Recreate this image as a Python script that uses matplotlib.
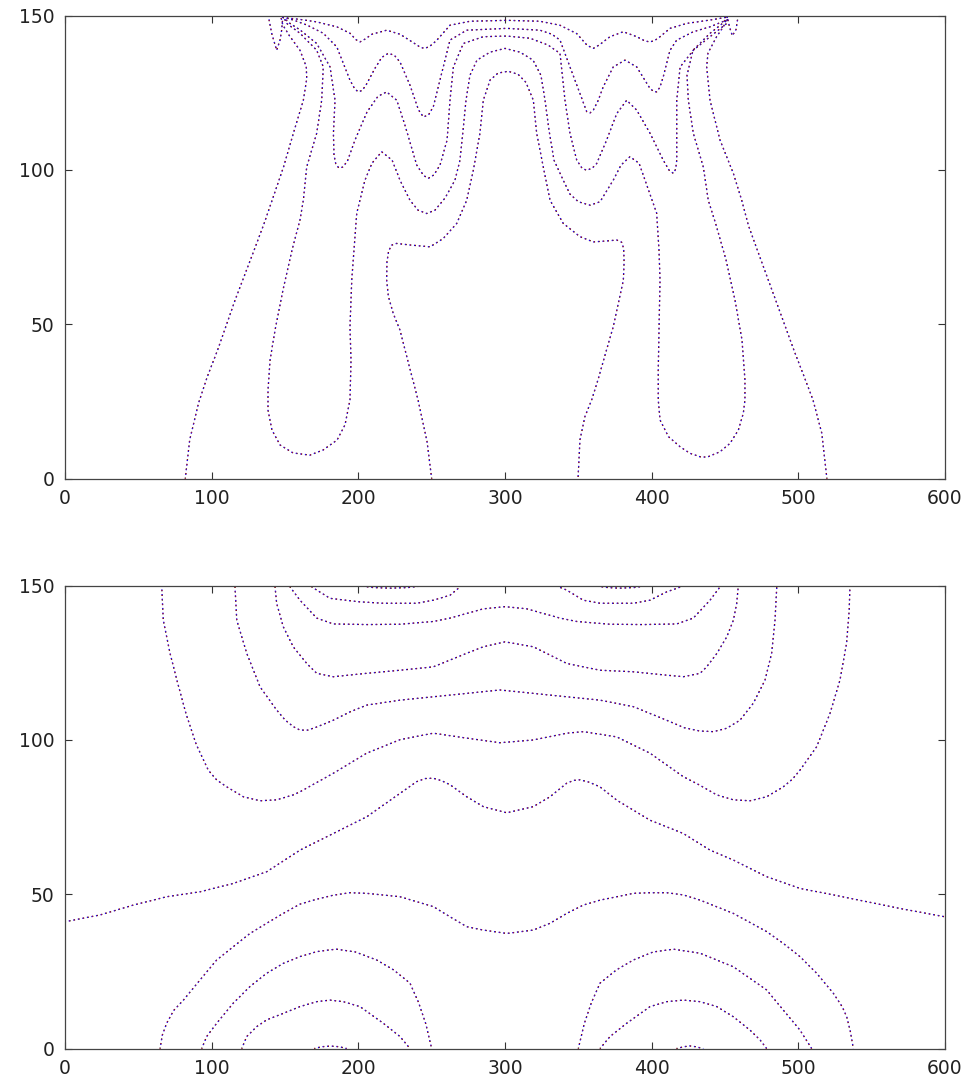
import matplotlib
matplotlib.use('Agg')
import matplotlib.pyplot as plt

# ---------------- top panel contours ----------------
top_outer_l_x = [82, 85, 91, 97, 104, 116, 129, 136, 142, 149, 155.7, 162.5, 164.8, 164.5, 160.2, 153, 148.5, 147]
top_outer_l_y = [0, 12.5, 24.4, 33, 41.6, 57.9, 74.1, 83, 91.3, 101, 111.9, 122.6, 129.5, 133.5, 138.8, 143.5, 147, 150]

top_outer_r_x = [519.5, 516, 510, 504, 497, 484.5, 472, 466, 461.4, 455.7, 446.6, 439.8, 437.5, 438.4, 444.3, 449, 452]
top_outer_r_y = [0, 14.7, 25.5, 33, 41.6, 57.9, 74.1, 82, 90.2, 98.9, 109.7, 122.6, 133.4, 137.9, 143.2, 146.5, 150]

top_long_x = [148.6, 151.2, 160.2, 171.6, 176.1, 175.0, 171.6, 164.8, 162.5, 160.2, 154.8, 148.6, 143.2, 139.8,
              138.4, 138.4, 141.1, 146.6, 155.5, 167.0, 176.1, 185.5, 190.9, 194.3, 195.0, 194.3, 195.5, 198.9,
              204.5, 209.3, 215.9, 223.0, 228.4, 235.2, 240.7, 246.6, 252.3, 259.1, 265.9, 269.3, 271.4, 273.4,
              276.1, 280.9, 289.8, 300, 310.2, 319.1, 324.5, 327.3, 330.0, 333.4, 339.7, 344.3, 350.0, 358.0,
              364.8, 373.8, 379.1, 385.2, 391.4, 395.5, 400.3, 403.4, 405.0, 405.7, 405.0, 404.5, 404.5, 405.7,
              411.4, 419.4, 426.1, 434.1, 438.6, 446.6, 453.4, 459.1, 462.5, 463.6, 463.6, 461.6, 456.8, 450.7,
              443.9, 438.6, 435.2, 428.4, 425.0, 424.1, 428.2, 439.8, 448.6, 451.4]
top_long_y = [150, 147.5, 144.3, 138.8, 133.4, 122.6, 111.9, 101.0, 90.2, 83.8, 74.1, 61.1, 48.1, 38.4,
              28.6, 22.2, 15.7, 10.9, 8.3, 7.6, 9.3, 12.5, 17.4, 25.5, 38.4, 49.1, 64.3, 86.0,
              96.7, 102.2, 105.9, 103.2, 96.7, 90.2, 87.0, 85.9, 87.0, 90.9, 96.7, 103.2, 112.9, 122.6,
              130.7, 135.6, 138.2, 139.4, 138.2, 135.6, 130.7, 122.6, 112.9, 103.2, 96.7, 92.2, 89.7, 88.6,
              89.7, 96.7, 101.6, 104.3, 102.2, 96.7, 90.2, 86.0, 74.1, 64.3, 48.1, 35.2, 25.5, 19.0,
              13.6, 10.3, 8.2, 6.9, 7.1, 8.7, 11.4, 15.7, 21.2, 25.5, 32.0, 44.9, 57.9, 70.9,
              82.2, 90.2, 101.0, 111.9, 122.6, 130.7, 138.8, 144.3, 147.6, 149.5]

top_center_x = [250, 246.8, 240.7, 234.5, 228.4, 223.8, 220.5, 219.3, 219.5, 220.6, 222.5, 226, 235.2, 248.9,
                257.9, 267.1, 273.9, 278.4, 282.9, 285.2, 289.8, 295.2, 302.2, 308.9, 314.3, 319.3, 321.6,
                326.1, 330.7, 339.7, 351.1, 360.2, 369.3, 376.2, 379.5, 380.9, 381.2, 380.7, 373.8, 368.2,
                363.4, 359.1, 354.5, 351.1, 349.8]
top_center_y = [0, 12.1, 25.5, 36.8, 48.1, 53.5, 59, 64.3, 70.2, 73.6, 75.6, 76.2, 75.7, 75.1,
                77.8, 82.7, 90.2, 99.9, 111.9, 122.6, 129.1, 131.4, 132.0, 131.0, 128.4, 122.6, 111.9,
                101.0, 90.2, 82.7, 78.4, 76.7, 77.0, 77.3, 76.6, 74.6, 70.2, 64.3, 49.2, 40.0,
                32.0, 25.5, 20.1, 12.5, 0]

top_w3_x = [148.6, 153.4, 160.2, 171.6, 180.7, 184.1, 183.0, 183.4, 184.6, 186.6, 189.2, 192.5, 197.7, 205.9,
            213.4, 219.3, 226.2, 231.8, 239.8, 244.5, 247.7, 251.5, 255.7, 260.5, 262.5, 264.8, 271.6, 285.2,
            301.1, 317.0, 329.3, 337.5, 340.9, 344.3, 348.9, 352.5, 355.7, 359.5, 362.5, 369.3, 376.2, 383.0,
            389.8, 398.9, 407.9, 411.8, 414.8, 416.4, 417.1, 417.1, 417.1, 419.4, 428.4, 439.8, 451.2, 452]
top_w3_y = [149.5, 147.5, 145.4, 141.0, 133.4, 122.6, 111.9, 104.8, 102.0, 100.7, 100.9, 102.8, 109.7, 118.8,
            123.9, 125.3, 122.6, 114.5, 101.6, 98.2, 97.3, 98.4, 101.6, 109.7, 122.6, 133.4, 141.0, 143.2,
            143.4, 142.7, 140.5, 137.8, 122.6, 111.9, 103.2, 100.6, 99.9, 100.6, 102.1, 109.7, 118.3, 122.6,
            119.4, 111.9, 103.2, 100.0, 98.9, 100.3, 103.2, 112.0, 122.6, 133.4, 138.8, 143.2, 147.5, 149.6]

top_w2_x = [148.6, 155.7, 164.8, 176.1, 185.3, 189.8, 194.3, 197.5, 200.0, 202.6, 205.2, 211.4, 216, 220.4,
            224.5, 228.4, 235.2, 241, 244.3, 247.8, 251.1, 257.9, 262.5, 273.9, 301.1, 323.9, 332.0, 337.5,
            344.3, 351.1, 355.7, 358, 360.2, 363.5, 367.0, 373.8, 381.8, 389.8, 398.9, 401.2, 403.4, 405.6,
            407.9, 412.5, 417.1, 428.4, 439.8, 451.2]
top_w2_y = [149.5, 148.6, 147.0, 144.3, 139.9, 134.5, 129.1, 126.3, 125.3, 125.8, 127.5, 133.0, 136.5, 137.8,
            137.2, 135.0, 127.5, 119.5, 117.2, 117.8, 120.5, 133.4, 142.1, 145.3, 145.9, 145.3, 144.0, 142.1,
            133.4, 124.8, 118.9, 118.5, 119.4, 122.5, 127.0, 133.4, 135.6, 133.4, 126.4, 125.5, 125.3, 126.8,
            130.2, 138.8, 142.1, 144.8, 146.4, 148.6]

top_w1_x = [148.6, 160.2, 171.6, 185.3, 194.3, 198.5, 201.1, 204.5, 209.3, 219.3, 228.4, 238.0, 242.5, 245.5,
            249, 253.0, 262.5, 276.1, 301.1, 323.9, 337.5, 348.9, 356, 360.2, 364.5, 371.6, 380.7, 389.8,
            395.5, 398.9, 402.2, 405.7, 412.5, 423.9, 439.8, 451.2]
top_w1_y = [149.4, 148.8, 148.0, 146.4, 144.3, 142.2, 141.5, 142.4, 144.0, 145.3, 144.0, 141.1, 139.7, 139.4,
            140.2, 141.8, 146.9, 148.2, 148.5, 148.2, 146.9, 144.2, 140.4, 139.4, 140.6, 143.2, 144.8, 143.2,
            141.8, 141.5, 142.0, 143.2, 145.9, 147.5, 148.6, 149.5]

top_hook_l_x = [138.6, 140.9, 144.3, 146.6, 147.7, 148.6]
top_hook_l_y = [150, 144.3, 138.8, 142.1, 145.3, 150]
top_hook_r_x = [451.5, 453, 455, 457.5, 459]
top_hook_r_y = [150, 146.5, 143.5, 145.5, 150]

# ---------------- bottom panel contours ----------------
bot_a1_x = [65.9, 67.0, 71.6, 76.5, 82.5, 89.5, 97.7, 103.5, 110.3, 121.6, 133.0, 144.3, 155.6, 160.2, 182.9,
            205.6, 228.4, 251.1, 273.9, 296.6, 319.3, 342.1, 353.4, 376.2, 398.9, 421.6, 433.0, 444.4, 455.7,
            467.0, 478.4, 489.7, 496, 501.1, 512.5, 521.6, 528.4, 532.9, 534.7, 535.2]
bot_a1_y = [150, 138.8, 128.1, 119.0, 108.5, 98.5, 90.2, 87.0, 84.8, 81.6, 80.3, 80.6, 82.2, 83.2, 89.2,
            95.7, 100.1, 102.2, 100.6, 99.1, 100.0, 102.2, 102.7, 101.0, 95.7, 88.1, 85.3, 82.2, 80.6,
            80.3, 81.6, 84.8, 87.3, 90.2, 97.8, 108.6, 119.4, 131.3, 142.1, 150]

bot_a2_x = [115.9, 117.1, 123.9, 133.0, 144.3, 150, 155.7, 160.2, 165.5, 171.6, 182.9, 194.3, 205.7, 228.4,
            251.1, 273.9, 296.6, 319.3, 342.1, 364.8, 387.5, 410.2, 422, 432.9, 442.1, 451.2, 460.2, 469.3,
            477.3, 481.8, 484.1, 485.3]
bot_a2_y = [149.6, 138.8, 128.1, 117.2, 109.7, 106.5, 104.3, 103.2, 103.2, 104.2, 106.4, 109.1, 111.3, 112.9,
            114.0, 115.1, 116.2, 115.1, 114.0, 112.9, 110.8, 106.4, 104.0, 102.9, 102.7, 103.8, 106.4, 111.9,
            119.4, 128.1, 138.8, 149.6]

bot_a3_x = [143.2, 144.3, 148.8, 155.6, 164.8, 171.6, 182.9, 205.7, 228.4, 251.1, 262.5, 273.9, 285.2, 300,
            319.3, 342.1, 364.8, 387.5, 410.2, 421.6, 433, 437.5, 444.4, 451.2, 455.7, 458, 459]
bot_a3_y = [149.6, 144.3, 136.7, 130.2, 124.8, 121.6, 120.5, 121.6, 122.6, 123.7, 125.9, 128.1, 130.2, 131.8,
            130.2, 124.8, 122.6, 122.1, 121.0, 120.5, 121.6, 123.7, 128.0, 133.4, 138.8, 144.3, 149.6]

bot_a4_x = [153.4, 160.2, 171.6, 182.9, 205.7, 228.4, 251.1, 262.5, 273.9, 285.2, 300, 314.8, 326.1, 337.5,
            348.9, 371.6, 394.3, 417.1, 428.4, 439.8, 446.6]
bot_a4_y = [149.6, 145.3, 139.5, 137.6, 137.4, 137.5, 138.4, 139.5, 141.0, 142.5, 143.2, 142.5, 141.0, 139.5,
            138.4, 137.5, 137.4, 137.6, 139.5, 145.3, 149.6]

bot_u1_l_x = [168.2, 180.7, 200, 217, 239.7, 251.1, 262.5, 269.3]
bot_u1_l_y = [149.6, 145.9, 144.8, 144.3, 144.3, 145.3, 146.9, 149.6]
bot_u1_r_x = [335.2, 342, 353.4, 364.8, 387.5, 398.9, 410.3, 421.6]
bot_u1_r_y = [149.9, 148.6, 145.3, 144.3, 144.3, 145.3, 148, 149.9]

bot_u0_l_x = [200, 210, 222, 234, 245]
bot_u0_l_y = [150, 149.4, 149.2, 149.4, 150]
bot_u0_r_x = [360, 370, 378, 388, 397]
bot_u0_r_y = [150, 149.4, 149.2, 149.4, 150]

bot_band_x = [0, 23.9, 46.6, 69.3, 92, 114.7, 137.5, 160.2, 182.9, 205.7, 228.4, 239.8, 245.5, 251.1, 256.8,
              262.5, 273.9, 285.2, 301.2, 319.3, 330.7, 342.1, 346.8, 351.1, 357.5, 364.8, 376.2, 398.9,
              421.6, 439.8, 455.7, 478.4, 501.1, 523.9, 546.6, 569.3, 600]
bot_band_y = [41.1, 43.3, 46.5, 49.2, 50.8, 53.5, 57.3, 64.3, 69.7, 75.1, 82.7, 86.5, 87.5, 87.6, 86.8,
              85.5, 81.6, 78.4, 76.4, 78.4, 81.6, 86, 86.9, 87.1, 86.3, 84.8, 80.5, 74.0,
              69.7, 64.3, 61.1, 55.7, 51.9, 49.8, 47.6, 45.4, 42.7]

bot_hill_x = [64.8, 66.3, 69.3, 74, 80.7, 92, 103.4, 114.7, 126.1, 137.5, 148.8, 160.2, 171.6, 182.9, 194.3,
              205.7, 228.4, 251.1, 262.5, 273.9, 285.2, 301.2, 319.3, 330.7, 342.1, 353.4, 364.8, 376.2, 387.5,
              398.9, 410.3, 421.6, 433, 455.7, 478.4, 489.7, 501.1, 512.5, 523.9, 530, 533, 535.5, 537.5]
bot_hill_y = [0, 4.3, 8.2, 12.3, 15.7, 22.2, 28.7, 33, 37.3, 40.6, 43.8, 46.8, 48.4, 49.7, 50.5,
              50.3, 49.2, 46, 42.7, 39.5, 38.4, 37.3, 38.4, 40.6, 43.8, 46.5, 48.1, 49.2, 50.3,
              50.5, 50.5, 49.8, 48.1, 43.8, 37.9, 34.1, 29.8, 24.4, 17.9, 13.5, 10.3, 5.5, 0]

bot_b7_l_x = [93.2, 96.6, 103.4, 114.7, 126.1, 137.5, 148.8, 160.2, 171.6, 180.7, 185.2, 198, 212.5, 224, 235.2, 241, 246, 250]
bot_b7_l_y = [0, 3.9, 8.2, 14.7, 20.1, 24.4, 27.6, 29.8, 31.4, 32.0, 32.2, 31.3, 28.7, 25.5, 21.2, 15, 8, 0]
bot_b7_r_x = [350, 354, 359, 364.8, 376, 387.5, 401, 414.8, 433, 455.7, 478.4, 489.7, 501.1, 509.1]
bot_b7_r_y = [0, 8, 15, 21.2, 25.5, 28.7, 31.3, 32.2, 30.9, 26.5, 19, 12.5, 6.0, 0]

bot_b8_l_x = [120.5, 123.9, 130.7, 137.5, 148.8, 160.2, 171.6, 180.7, 189.7, 201.1, 217, 228.4, 235.2]
bot_b8_l_y = [0, 3.9, 7.1, 9.3, 11.4, 13.6, 15.2, 15.7, 15.2, 13.6, 8.2, 3.9, 0]
bot_b8_r_x = [364.8, 371.6, 383, 398.9, 410.3, 421.6, 433, 444.4, 455.7, 467, 473.9, 478.4]
bot_b8_r_y = [0, 3.9, 8.2, 13.6, 15.2, 15.7, 15.2, 13.6, 10.3, 6.0, 2.8, 0]

bot_tiny_l_x = [170, 175, 181, 187, 192]
bot_tiny_l_y = [0, 0.6, 0.8, 0.6, 0]
bot_tiny_r_x = [417, 422, 426.1, 430, 435.2]
bot_tiny_r_y = [0, 0.6, 0.85, 0.6, 0]

x_ticks = [0, 100, 200, 300, 400, 500, 600]
y_ticks = [0, 50, 100, 150]


def dotted(ax, x, y):
    # three nearly coincident dotted copies -> red/blue/black speckled dots
    ax.plot(x, y, color='black', lw=0.9, linestyle=(0, (0.8, 2.9)))
    ax.plot(x, y, color='red', lw=0.9, linestyle=(0.35, (0.8, 2.9)))
    ax.plot(x, y, color='blue', lw=0.9, linestyle=(0.7, (0.8, 2.9)))


def style(ax):
    ax.set_xlim(0, 600)
    ax.set_ylim(0, 150)
    ax.set_xticks(x_ticks)
    ax.set_yticks(y_ticks)
    ax.tick_params(direction='in', length=5, width=0.8, top=True, right=True,
                   labelsize=13.5, pad=7.5, colors='#333333', labelcolor='#222222')
    for s in ax.spines.values():
        s.set_color('#444444')
        s.set_linewidth(0.9)


fig = plt.figure(figsize=(9.72, 10.83), dpi=100)
ax1 = fig.add_axes([0.0669, 0.5581, 0.9053, 0.4274])
ax2 = fig.add_axes([0.0669, 0.0318, 0.9053, 0.4274])

for xs, ys in [(top_outer_l_x, top_outer_l_y), (top_outer_r_x, top_outer_r_y),
               (top_long_x, top_long_y), (top_center_x, top_center_y),
               (top_w3_x, top_w3_y), (top_w2_x, top_w2_y), (top_w1_x, top_w1_y),
               (top_hook_l_x, top_hook_l_y), (top_hook_r_x, top_hook_r_y)]:
    dotted(ax1, xs, ys)

for xs, ys in [(bot_a1_x, bot_a1_y), (bot_a2_x, bot_a2_y), (bot_a3_x, bot_a3_y), (bot_a4_x, bot_a4_y),
               (bot_u1_l_x, bot_u1_l_y), (bot_u1_r_x, bot_u1_r_y),
               (bot_u0_l_x, bot_u0_l_y), (bot_u0_r_x, bot_u0_r_y),
               (bot_band_x, bot_band_y), (bot_hill_x, bot_hill_y),
               (bot_b7_l_x, bot_b7_l_y), (bot_b7_r_x, bot_b7_r_y),
               (bot_b8_l_x, bot_b8_l_y), (bot_b8_r_x, bot_b8_r_y),
               (bot_tiny_l_x, bot_tiny_l_y), (bot_tiny_r_x, bot_tiny_r_y)]:
    dotted(ax2, xs, ys)

style(ax1)
style(ax2)

fig.savefig('out.png', dpi=100)
